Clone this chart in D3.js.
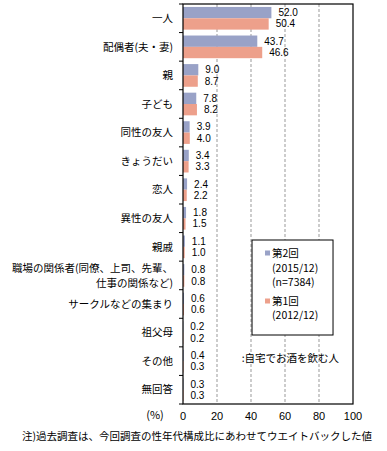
<!DOCTYPE html>
<html>
<head>
<meta charset="utf-8">
<script src="https://cdn.jsdelivr.net/npm/d3@7"></script>
<style>
body { margin: 0; background: #fff; }
text { font-family: "Noto Sans CJK JP", sans-serif; fill: #000; }
text.num { font-family: "Liberation Sans", Arial, sans-serif; }
</style>
</head>
<body>
<script>
// 自宅でお酒を飲む人: 一緒に飲む相手
var categories = [
  ['一人'],
  ['配偶者(夫・妻)'],
  ['親'],
  ['子ども'],
  ['同性の友人'],
  ['きょうだい'],
  ['恋人'],
  ['異性の友人'],
  ['親戚'],
  ['職場の関係者(同僚、上司、先輩、', '仕事の関係など)'],
  ['サークルなどの集まり'],
  ['祖父母'],
  ['その他'],
  ['無回答']
];
var round2 = [52.0, 43.7, 9.0, 7.8, 3.9, 3.4, 2.4, 1.8, 1.1, 0.8, 0.6, 0.2, 0.4, 0.3];
var round1 = [50.4, 46.6, 8.7, 8.2, 4.0, 3.3, 2.2, 1.5, 1.0, 0.8, 0.6, 0.2, 0.3, 0.3];
var xTicks = [0, 20, 40, 60, 80, 100];
var colors = ['#99a2c7', '#eda08b'];

var margin = {top: 4, left: 183, right: 34, bottom: 47};
var width = 387 - margin.left - margin.right;
var height = 451 - margin.top - margin.bottom;

var svg = d3.select('body').append('svg')
  .attr('width', 387)
  .attr('height', 451);

var main = svg.append('g')
  .attr('transform', 'translate(' + margin.left + ',' + margin.top + ')');

var x = d3.scaleLinear().domain([0, 100]).range([0, width]);
var y = d3.scaleBand().domain(d3.range(categories.length)).range([0, height]);
var inner = d3.scaleBand().domain([0, 1]).range([0, y.bandwidth()])
  .paddingInner(0).paddingOuter(0.26);

// gridlines
main.selectAll('.grid')
  .data(xTicks.filter(function(d) { return d > 0 && d < 100; }))
  .enter().append('line')
  .attr('x1', function(d) { return x(d); })
  .attr('x2', function(d) { return x(d); })
  .attr('y1', 0)
  .attr('y2', height)
  .attr('stroke', '#999')
  .attr('stroke-dasharray', '3,2');

var rows = categories.map(function(c, i) {
  return {i: i, vals: [round2[i], round1[i]]};
});

var bars = main.selectAll('.row')
  .data(rows)
  .enter().append('g')
  .attr('transform', function(d) { return 'translate(0,' + y(d.i) + ')'; });

bars.selectAll('rect')
  .data(function(d) { return d.vals; })
  .enter().append('rect')
  .attr('x', 0)
  .attr('y', function(d, j) { return inner(j); })
  .attr('width', function(d) { return x(d); })
  .attr('height', inner.bandwidth())
  .attr('fill', function(d, j) { return colors[j]; });

bars.selectAll('.val')
  .data(function(d) { return d.vals; })
  .enter().append('text')
  .attr('class', 'num')
  .attr('x', function(d) { return x(d) + 7; })
  .attr('y', function(d, j) { return inner(j) + inner.bandwidth() / 2; })
  .attr('dy', '0.35em')
  .style('font-size', '10px')
  .text(function(d) { return d.toFixed(1); });

// frame
main.append('rect')
  .attr('width', width)
  .attr('height', height)
  .attr('fill', 'none')
  .attr('stroke', '#000')
  .attr('stroke-width', 1.2);

// category ticks
var bounds = d3.range(categories.length + 1).map(function(i) {
  return i < categories.length ? y(i) : height;
});
main.selectAll('.ctick')
  .data(bounds)
  .enter().append('line')
  .attr('x1', -4).attr('x2', 0)
  .attr('y1', function(d) { return d; })
  .attr('y2', function(d) { return d; })
  .attr('stroke', '#000');

// category labels
var lab = main.selectAll('.cat')
  .data(categories)
  .enter().append('text')
  .attr('x', -10)
  .attr('text-anchor', 'end')
  .style('font-size', '10.5px')
  .attr('transform', function(d, i) {
    return 'translate(0,' + (y(i) + y.bandwidth() / 2) + ')';
  });
lab.selectAll('tspan')
  .data(function(d) { return d; })
  .enter().append('tspan')
  .attr('x', -10)
  .attr('y', function(d, k, arr) { return (k - (arr.length - 1) / 2) * 15; })
  .attr('dy', '0.35em')
  .text(function(d) { return d; });

// x axis labels
main.selectAll('.xt')
  .data(xTicks)
  .enter().append('text')
  .attr('class', 'num')
  .attr('x', function(d) { return x(d); })
  .attr('y', height + 16)
  .attr('text-anchor', 'middle')
  .style('font-size', '11px')
  .text(function(d) { return d; });

main.append('text')
  .attr('x', -28)
  .attr('y', height + 15)
  .attr('text-anchor', 'middle')
  .style('font-size', '11px')
  .text('(%)');

// legend
var legend = main.append('g').attr('transform', 'translate(' + x(40.6) + ',236)');
legend.append('rect')
  .attr('width', 81)
  .attr('height', 95)
  .attr('fill', '#fff')
  .attr('stroke', '#000');
var legendRows = [
  {text: '第2回', sw: 0, y: 13},
  {text: '(2015/12)', y: 28},
  {text: '(n=7384)', y: 42},
  {text: '第1回', sw: 1, y: 61},
  {text: '(2012/12)', y: 75}
];
legend.selectAll('.lt')
  .data(legendRows)
  .enter().append('text')
  .attr('x', 20)
  .attr('y', function(d) { return d.y; })
  .attr('dy', '0.35em')
  .style('font-size', '10.5px')
  .text(function(d) { return d.text; });
legend.selectAll('.ls')
  .data(legendRows.filter(function(d) { return d.sw !== undefined; }))
  .enter().append('rect')
  .attr('x', 13)
  .attr('y', function(d) { return d.y - 2.5; })
  .attr('width', 5)
  .attr('height', 5)
  .attr('fill', function(d) { return colors[d.sw]; });

main.append('text')
  .attr('x', x(34.5))
  .attr('y', 354)
  .attr('dy', '0.35em')
  .style('font-size', '10.5px')
  .text(':自宅でお酒を飲む人');

svg.append('text')
  .attr('x', 22)
  .attr('y', 440)
  .style('font-size', '10.5px')
  .text('注)過去調査は、今回調査の性年代構成比にあわせてウエイトバックした値');
</script>
</body>
</html>
